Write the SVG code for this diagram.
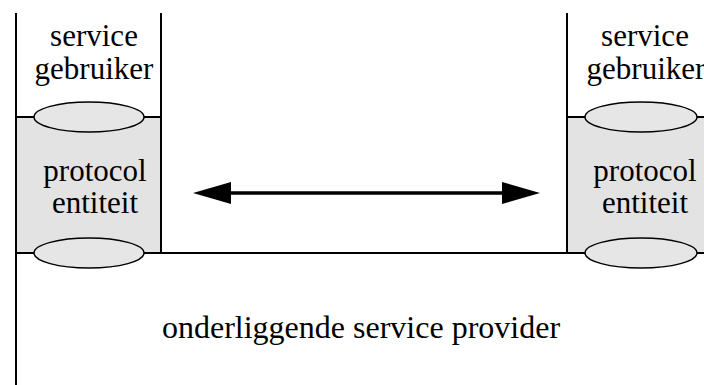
<svg xmlns="http://www.w3.org/2000/svg" width="704" height="385" viewBox="0 0 704 385">
  <defs>
    <style>
      .ln { stroke: #000; stroke-width: 2; fill: none; }
      .ent { fill: #e3e3e3; stroke: none; }
      .sap { fill: #e6e6e6; stroke: #000; stroke-width: 1.5; }
      .t { font-family: "Liberation Serif", "Times New Roman", serif; font-size: 31px; fill: #000; text-anchor: middle; }
      .big { font-size: 32px; }
    </style>
    <marker id="head" viewBox="0 0 38 22" refX="0" refY="11" markerWidth="38" markerHeight="22" markerUnits="userSpaceOnUse" orient="auto-start-reverse">
      <path d="M0,0 L38,11 L0,22 Z" fill="#000"/>
    </marker>
  </defs>
  <rect width="704" height="385" fill="#fff"/>

  <!-- left protocol entity -->
  <g id="entity-left">
    <rect class="ent" x="16" y="117" width="145" height="136"/>
    <path class="ln" d="M16,13 V385 M161,13 V253 M16,117 H161"/>
    <text class="t" x="94" y="46">service</text>
    <text class="t" x="94" y="79">gebruiker</text>
    <text class="t" x="95" y="181">protocol</text>
    <text class="t" x="95" y="213">entiteit</text>
  </g>

  <!-- right protocol entity -->
  <g id="entity-right">
    <rect class="ent" x="567" y="117" width="137" height="136"/>
    <path class="ln" d="M567,13 V253 M567,117 H704"/>
    <text class="t" x="645" y="46">service</text>
    <text class="t" x="646" y="79">gebruiker</text>
    <text class="t" x="645" y="181">protocol</text>
    <text class="t" x="645" y="213">entiteit</text>
  </g>

  <!-- underlying service provider -->
  <g id="provider">
    <path class="ln" d="M16,253 H704"/>
    <text class="t big" x="361" y="338">onderliggende service provider</text>
  </g>

  <!-- service access points -->
  <g id="saps">
    <ellipse class="sap" cx="89" cy="117" rx="55" ry="15"/>
    <ellipse class="sap" cx="89" cy="253" rx="55" ry="15"/>
    <ellipse class="sap" cx="641" cy="117" rx="56" ry="15"/>
    <ellipse class="sap" cx="641" cy="253" rx="56" ry="15"/>
  </g>

  <!-- peer-to-peer protocol exchange -->
  <g id="connectors">
    <line x1="231" y1="193" x2="502" y2="193" stroke="#000" stroke-width="3.5" marker-start="url(#head)" marker-end="url(#head)"/>
  </g>
</svg>
